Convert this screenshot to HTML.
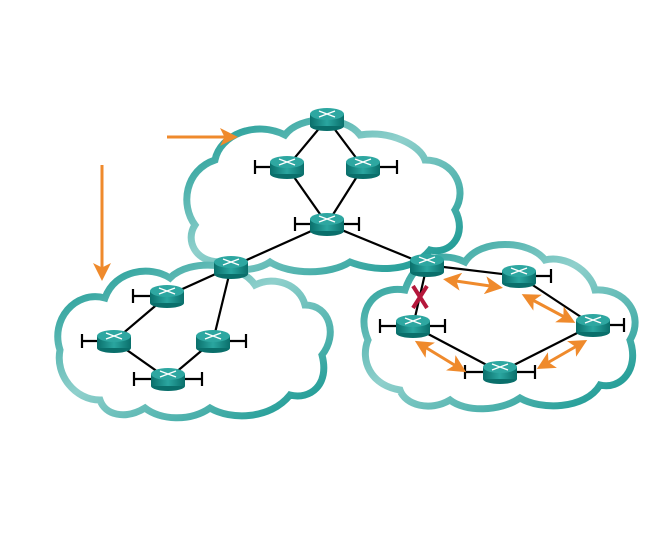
<!DOCTYPE html>
<html><head><style>body{margin:0;background:#fff}svg{display:block}</style></head><body>
<svg width="653" height="556" viewBox="0 0 653 556" xmlns="http://www.w3.org/2000/svg">
<defs>
<linearGradient id="cg" x1="0" y1="0" x2="1" y2="1">
<stop offset="0" stop-color="#0f948e"/><stop offset="0.45" stop-color="#8fd0cc"/><stop offset="1" stop-color="#0f948e"/></linearGradient>
<linearGradient id="rg" x1="0" y1="0" x2="1" y2="0">
<stop offset="0" stop-color="#0a6f6b"/><stop offset="0.5" stop-color="#2aa6a0"/><stop offset="1" stop-color="#0a6f6b"/></linearGradient>
<marker id="ah" markerWidth="6" markerHeight="6" refX="4" refY="3" orient="auto-start-reverse" markerUnits="strokeWidth"><path d="M0,0 L6,3 L0,6 L1.5,3Z" fill="#ef8a2c"/></marker>
<g id="r">
<ellipse cx="0" cy="7" rx="17" ry="5" fill="#0a6f6b"/>
<rect x="-17" y="-5" width="34" height="12" fill="url(#rg)"/>
<ellipse cx="0" cy="-5" rx="17" ry="6" fill="#2ea7a1"/>
<path d="M-8,-8 L8,-2 M8,-8 L-8,-2" stroke="#fff" stroke-width="1.4"/>
</g>
</defs>
<g fill="none" stroke="url(#cg)" stroke-width="7">
<path d="M220,262 C195,262 185,240 195,225 C180,205 185,170 215,160 C220,135 255,120 285,135 C300,115 345,115 360,135 C390,130 420,145 425,160 C455,160 468,190 455,210 C468,235 450,255 430,250 C410,275 370,270 350,262 C330,275 290,275 270,262 C255,272 230,272 220,262 Z"/>
<path d="M100,400 C75,400 55,375 60,350 C50,320 75,290 105,298 C115,270 150,265 170,278 C190,258 240,262 255,285 C275,275 300,285 305,305 C330,305 338,335 322,355 C330,385 310,400 290,395 C270,420 230,420 210,408 C190,422 160,420 145,408 C125,420 105,415 100,400 Z"/>
<path d="M400,390 C370,385 360,360 368,340 C355,310 375,285 405,290 C415,260 440,250 465,262 C480,238 530,240 545,260 C565,255 590,270 595,290 C625,288 645,315 630,340 C640,370 620,390 600,385 C585,410 540,410 520,398 C500,412 465,412 450,400 C430,412 405,405 400,390 Z"/>
</g>
<g stroke="#000" stroke-width="2.2" fill="none">
<path d="M327,119 L287,167 L327,224 L363,167 Z"/>
<path d="M231,267 L327,224 L427,265 L519,276 L593,325 L500,372 L413,326 L427,265"/>
<path d="M231,267 L167,296 L114,341 L168,379 L213,341 L231,267"/>
<path d="M255,167h32 M255,160v14 M363,167h34 M397,160v14 M295,224h64 M295,217v14 M359,217v14
M133,296h34 M133,289v14 M82,341h32 M82,334v14 M213,341h33 M246,334v14 M134,379h68 M134,372v14 M202,372v14
M519,276h32 M551,269v14 M380,326h65 M380,319v14 M445,319v14 M593,325h31 M624,318v14 M465,372h70 M465,365v14 M535,365v14"/>
</g>
<g>
<use href="#r" x="327" y="119"/><use href="#r" x="287" y="167"/><use href="#r" x="363" y="167"/><use href="#r" x="327" y="224"/>
<use href="#r" x="231" y="267"/><use href="#r" x="427" y="265"/>
<use href="#r" x="167" y="296"/><use href="#r" x="114" y="341"/><use href="#r" x="213" y="341"/><use href="#r" x="168" y="379"/>
<use href="#r" x="519" y="276"/><use href="#r" x="413" y="326"/><use href="#r" x="593" y="325"/><use href="#r" x="500" y="372"/>
</g>
<g stroke="#ef8a2c" stroke-width="3" fill="none">
<path d="M167,137 L232,137" marker-end="url(#ah)"/>
<path d="M102,165 L102,275" marker-end="url(#ah)"/>
<path d="M449,280 L497,287" marker-start="url(#ah)" marker-end="url(#ah)"/>
<path d="M527,297 L570,320" marker-start="url(#ah)" marker-end="url(#ah)"/>
<path d="M420,344 L461,369" marker-start="url(#ah)" marker-end="url(#ah)"/>
<path d="M542,366 L582,343" marker-start="url(#ah)" marker-end="url(#ah)"/>
</g>
<path d="M413,286 L427,308 M427,286 L413,308" stroke="#b5173b" stroke-width="4"/>
</svg>
</body></html>
